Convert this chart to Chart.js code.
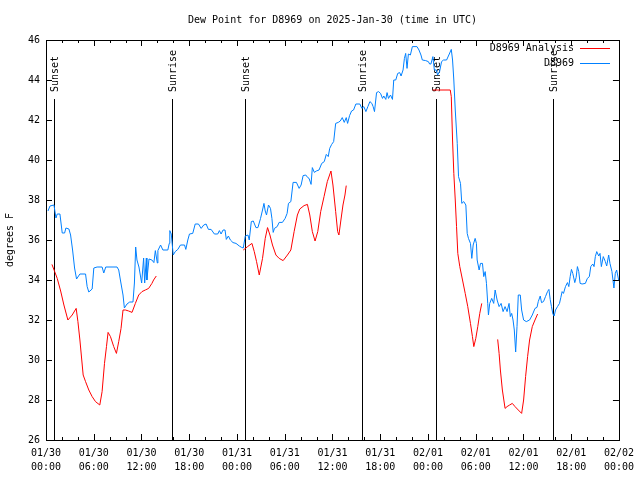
<!DOCTYPE html>
<html>
<head>
<meta charset="utf-8">
<script src="https://cdn.jsdelivr.net/npm/chart.js@4/dist/chart.umd.min.js"></script>
<style>
  html, body { margin: 0; padding: 0; background: #fff; }
  #wrapper { width: 640px; height: 480px; }
</style>
</head>
<body>
<div id="wrapper"><canvas id="grafico" width="640" height="480"></canvas></div>
<script>
"use strict";

// hours since 01/30 00:00 UTC, dew point in F
const obsPoints = [
	[0.25,37.45],[0.5,37.7],[1.0,37.75],[1.25,37.1],[1.41,37.3],[1.75,37.3],[2.04,36.35],[2.34,36.35],
	[2.5,36.6],[2.88,36.55],[3.09,36.25],[3.34,35.5],[3.59,34.6],[3.84,34.05],[4.26,34.3],[4.97,34.3],
	[5.17,33.67],[5.38,33.4],[5.8,33.55],[6.01,34.6],[6.42,34.65],[7.05,34.65],[7.26,34.35],[7.51,34.65],
	[8.93,34.65],[9.14,34.5],[9.35,34.0],[9.68,33.25],[9.85,32.6],[10.18,32.8],[10.52,32.9],[10.93,32.9],
	[11.11,33.85],[11.27,35.65],[11.43,35.0],[11.68,34.65],[12.02,33.85],[12.27,35.1],[12.4,33.85],[12.61,35.1],
	[12.68,34.0],[12.94,35.05],[13.31,35.0],[13.56,34.87],[13.74,35.47],[13.99,34.85],[14.06,35.47],[14.4,35.75],
	[14.69,35.5],[15.31,35.5],[15.49,35.83],[15.56,36.47],[15.74,36.3],[15.99,35.25],[16.24,35.42],[16.57,35.53],
	[16.9,35.75],[17.41,35.75],[17.57,35.53],[17.82,36.0],[18.03,36.3],[18.44,36.33],[18.75,36.8],[19.16,36.8],
	[19.5,36.58],[19.82,36.75],[20.12,36.8],[20.41,36.53],[20.75,36.53],[21.16,36.3],[21.58,36.3],[21.79,36.47],
	[22.0,36.3],[22.25,36.5],[22.5,36.5],[22.66,36.03],[22.92,36.2],[23.17,36.0],[23.5,35.87],[23.88,35.83],
	[24.29,35.7],[24.58,35.63],[24.79,35.6],[25.04,36.2],[25.38,36.25],[25.54,36.0],[25.8,36.92],[26.05,36.95],
	[26.38,36.62],[26.63,36.62],[26.96,37.08],[27.21,37.5],[27.39,37.83],[27.55,37.45],[27.71,37.25],[27.96,37.75],
	[28.21,37.58],[28.39,37.08],[28.55,36.38],[28.71,36.58],[29.05,36.67],[29.3,36.88],[29.71,36.88],[30.05,37.08],
	[30.3,37.33],[30.47,37.83],[30.77,37.92],[31.05,38.88],[31.47,38.88],[31.81,38.58],[32.06,38.75],[32.31,39.22],
	[32.64,39.25],[32.9,39.12],[33.06,39.08],[33.31,38.78],[33.47,39.62],[33.72,39.38],[33.97,39.45],[34.31,39.5],
	[34.65,39.83],[34.97,39.92],[35.22,40.28],[35.47,40.17],[35.65,40.58],[35.9,40.78],[36.15,40.92],[36.4,41.83],
	[36.73,41.88],[36.98,41.95],[37.23,42.12],[37.48,41.88],[37.73,42.12],[37.9,41.83],[38.15,42.22],[38.4,42.45],
	[38.65,42.5],[38.94,42.8],[39.44,42.8],[39.69,42.58],[39.94,42.67],[40.2,42.42],[40.45,42.67],[40.7,42.92],
	[40.95,42.83],[41.11,42.67],[41.28,42.42],[41.54,43.37],[41.79,43.42],[42.04,43.33],[42.29,43.08],[42.45,43.2],
	[42.7,43.03],[42.86,43.37],[43.04,43.08],[43.29,43.25],[43.54,43.03],[43.7,44.0],[43.95,44.0],[44.2,44.33],
	[44.45,44.37],[44.62,44.2],[44.87,44.5],[45.04,45.08],[45.2,45.33],[45.37,44.58],[45.54,45.3],[45.79,45.25],
	[46.04,45.67],[46.62,45.67],[46.87,45.5],[47.12,45.25],[47.29,45.0],[47.71,44.97],[48.05,44.92],[48.21,44.8],
	[48.37,44.8],[48.62,45.17],[48.8,44.5],[49.05,44.5],[49.21,44.25],[49.46,44.42],[49.71,44.92],[49.96,45.0],
	[50.34,45.0],[50.68,45.3],[50.93,45.53],[51.09,45.0],[51.25,44.0],[51.43,42.5],[51.68,40.83],[51.84,39.17],
	[52.09,38.83],[52.25,37.83],[52.5,37.92],[52.76,37.75],[52.93,36.33],[53.09,36.08],[53.34,35.83],[53.51,35.08],
	[53.68,35.75],[53.93,36.08],[54.09,35.83],[54.18,35.0],[54.43,34.5],[54.6,34.83],[54.85,34.83],[55.01,34.17],
	[55.19,34.42],[55.35,33.83],[55.51,32.83],[55.6,32.25],[55.76,32.83],[56.01,33.08],[56.26,32.83],[56.44,33.5],
	[56.69,33.0],[56.94,32.67],[57.19,32.83],[57.44,32.42],[57.69,32.67],[57.94,32.42],[58.19,32.83],[58.35,32.17],
	[58.52,32.33],[58.69,32.0],[58.85,31.5],[59.02,30.4],[59.19,31.67],[59.35,33.25],[59.6,33.25],[59.77,32.5],
	[60.02,32.0],[60.36,31.92],[60.77,32.0],[61.11,32.25],[61.45,32.58],[61.7,32.63],[61.86,32.92],[62.11,33.2],
	[62.27,32.87],[62.52,32.92],[62.77,33.17],[63.02,33.42],[63.2,33.53],[63.36,33.03],[63.52,32.67],[63.7,32.3],
	[63.86,32.2],[64.03,32.5],[64.28,32.67],[64.53,32.83],[64.7,33.13],[64.86,33.42],[65.03,33.33],[65.28,33.67],
	[65.53,33.87],[65.7,33.67],[65.87,34.17],[66.03,34.53],[66.2,34.33],[66.45,33.87],[66.62,34.13],[66.78,34.67],
	[66.95,34.42],[67.12,33.83],[67.37,33.8],[67.78,33.83],[68.03,34.08],[68.28,34.17],[68.46,34.67],[68.71,34.8],
	[68.87,34.67],[69.03,35.17],[69.21,35.42],[69.46,35.2],[69.62,35.33],[69.79,34.67],[70.03,35.17],[70.29,34.92],
	[70.46,34.7],[70.71,35.25],[70.87,34.83],[71.12,34.42],[71.37,33.6],[71.54,34.33],[71.71,34.5],[71.96,34.0]
];

// analysis, null = no value (line breaks)
const anaPoints = [
	[0.75,34.78],[1.09,34.42],[1.41,34.08],[1.84,33.45],[2.25,32.75],[2.75,32.0],[3.29,32.25],[3.79,32.58],
	[4.01,31.92],[4.26,31.0],[4.67,29.25],[4.97,28.92],[5.38,28.5],[5.8,28.17],[6.22,27.92],[6.76,27.75],
	[7.05,28.42],[7.35,29.83],[7.6,30.67],[7.8,31.38],[8.1,31.17],[8.51,30.67],[8.85,30.33],[9.14,30.92],
	[9.43,31.58],[9.68,32.5],[9.98,32.5],[10.39,32.45],[10.81,32.38],[11.23,32.83],[11.65,33.25],[12.06,33.42],
	[12.48,33.5],[12.9,33.58],[13.31,33.83],[13.52,34.0],[13.86,34.2],
	[19.0,null],
	[24.79,35.5],[25.33,35.67],[25.88,35.83],[26.17,35.42],[26.46,34.92],[26.8,34.25],[27.21,35.08],[27.55,36.08],
	[27.84,36.62],[28.14,36.25],[28.46,35.75],[28.89,35.25],[29.3,35.08],[29.8,34.97],[30.34,35.25],[30.77,35.5],
	[31.18,36.42],[31.59,37.25],[31.89,37.55],[32.43,37.72],[32.85,37.78],[33.15,37.25],[33.47,36.42],[33.81,35.95],
	[34.15,36.42],[34.52,37.42],[34.94,38.17],[35.35,38.92],[35.81,39.45],[36.06,38.75],[36.4,37.42],[36.65,36.42],
	[36.81,36.25],[37.06,37.0],[37.32,37.75],[37.57,38.25],[37.73,38.72],
	[43.0,null],
	[48.59,43.5],[49.34,43.5],[50.8,43.5],[50.93,43.17],[51.09,41.0],[51.25,39.33],[51.43,38.0],[51.59,36.67],
	[51.75,35.33],[52.0,34.67],[52.34,34.0],[52.68,33.33],[53.0,32.67],[53.34,31.83],[53.59,31.17],[53.76,30.67],
	[54.01,31.08],[54.26,31.67],[54.51,32.33],[54.76,32.83],
	[55.8,null],
	[56.76,31.03],[56.94,30.33],[57.1,29.5],[57.35,28.5],[57.69,27.58],[57.94,27.67],[58.26,27.75],[58.6,27.83],
	[58.94,27.67],[59.35,27.5],[59.77,27.33],[60.02,28.0],[60.27,29.17],[60.52,30.17],[60.77,31.0],[61.11,31.67],
	[61.45,32.0],[61.78,32.3]
];

const sunHours = [1.0, 15.78, 25.04, 39.7, 48.96, 63.74];
const sunLabels = ["Sunset", "Sunrise", "Sunset", "Sunrise", "Sunset", "Sunrise"];

const tickDates = ["01/30", "01/30", "01/30", "01/30", "01/31", "01/31", "01/31", "01/31", "02/01", "02/01", "02/01", "02/01", "02/02"];
const tickTimes = ["00:00", "06:00", "12:00", "18:00", "00:00", "06:00", "12:00", "18:00", "00:00", "06:00", "12:00", "18:00", "00:00"];

const seriesNames = ["D8969 Analysis", "D8969"];
const seriesColors = ["#ff0000", "#0080ff"];

const titolo = "Dew Point for D8969 on 2025-Jan-30 (time in UTC)";
const FONT = "'DejaVu Sans Mono', 'Liberation Mono', monospace";

function toXY(points) {
	return points.map(function (p) { return { x: p[0], y: p[1] }; });
}

const cornice = {
	id: "cornice",
	beforeDatasetsDraw: function (chart) {
		const ctx = chart.ctx;
		const xs = chart.scales.x;
		const area = chart.chartArea;
		ctx.save();
		ctx.strokeStyle = "#000";
		ctx.lineWidth = 1;
		ctx.fillStyle = "#000";
		ctx.font = "10px " + FONT;
		for (let i = 0; i < sunHours.length; i++) {
			const px = Math.round(xs.getPixelForValue(sunHours[i])) + 0.5;
			ctx.beginPath();
			ctx.moveTo(px, area.top + 59);
			ctx.lineTo(px, area.bottom);
			ctx.stroke();
			ctx.save();
			ctx.translate(px + 1, area.top + 52);
			ctx.rotate(-Math.PI / 2);
			ctx.textAlign = "left";
			ctx.textBaseline = "middle";
			ctx.fillText(sunLabels[i], 0, 0);
			ctx.restore();
		}
		ctx.restore();
	},
	afterDatasetsDraw: function (chart) {
		const ctx = chart.ctx;
		const xs = chart.scales.x;
		const ys = chart.scales.y;
		const a = chart.chartArea;
		ctx.save();
		ctx.strokeStyle = "#000";
		ctx.lineWidth = 1;
		// ticks inside on all sides
		ctx.beginPath();
		for (let h = 0; h <= 72; h += 2) {
			const px = Math.round(xs.getPixelForValue(h)) + 0.5;
			const len = (h % 6 === 0) ? 6 : 3;
			ctx.moveTo(px, a.bottom); ctx.lineTo(px, a.bottom - len);
			ctx.moveTo(px, a.top); ctx.lineTo(px, a.top + len);
		}
		for (let v = 26; v <= 46; v += 2) {
			const py = Math.round(ys.getPixelForValue(v)) + 0.5;
			ctx.moveTo(a.left, py); ctx.lineTo(a.left + 6, py);
			ctx.moveTo(a.right, py); ctx.lineTo(a.right - 6, py);
		}
		ctx.stroke();
		ctx.strokeRect(Math.round(a.left) + 0.5, Math.round(a.top) + 0.5, Math.round(a.right - a.left), Math.round(a.bottom - a.top));

		// title
		ctx.fillStyle = "#000";
		ctx.font = "10px " + FONT;
		ctx.textAlign = "center";
		ctx.textBaseline = "middle";
		ctx.fillText(titolo, (a.left + a.right) / 2, 20);

		// legend
		ctx.textAlign = "right";
		for (let i = 0; i < seriesNames.length; i++) {
			const ly = 48 + i * 15;
			ctx.fillStyle = "#000";
			ctx.fillText(seriesNames[i], 574, ly);
			ctx.strokeStyle = seriesColors[i];
			ctx.beginPath();
			ctx.moveTo(580, ly + 0.5);
			ctx.lineTo(610, ly + 0.5);
			ctx.stroke();
		}
		ctx.restore();
	}
};

const canvas = document.getElementById("grafico");
const grafico = new Chart(canvas, {
	type: "line",
	data: {
		datasets: [
			{
				label: seriesNames[0],
				data: toXY(anaPoints),
				borderColor: seriesColors[0],
				borderWidth: 1,
				pointRadius: 0,
				tension: 0,
				spanGaps: false
			},
			{
				label: seriesNames[1],
				data: toXY(obsPoints),
				borderColor: seriesColors[1],
				borderWidth: 1,
				pointRadius: 0,
				tension: 0
			}
		]
	},
	options: {
		responsive: false,
		animation: false,
		layout: { padding: { top: 40, right: 19, left: 0, bottom: 0 } },
		plugins: {
			legend: { display: false },
			title: { display: false },
			tooltip: { enabled: false }
		},
		scales: {
			x: {
				type: "linear",
				min: 0,
				max: 72,
				afterFit: function (s) { s.height = 40; },
				grid: { display: false, drawTicks: false },
				border: { display: false },
				ticks: {
					stepSize: 6,
					autoSkip: false,
					maxRotation: 0,
					padding: 6,
					color: "#000",
					font: { family: FONT, size: 10, lineHeight: "14px" },
					callback: function (value) {
						const i = Math.round(value / 6);
						return [tickDates[i], tickTimes[i]];
					}
				}
			},
			y: {
				min: 26,
				max: 46,
				afterFit: function (s) { s.width = 46; },
				grid: { display: false, drawTicks: false },
				border: { display: false },
				title: {
					display: true,
					text: "degrees F",
					color: "#000",
					padding: 4,
					font: { family: FONT, size: 10 }
				},
				ticks: {
					stepSize: 2,
					padding: 6,
					color: "#000",
					font: { family: FONT, size: 10 }
				}
			}
		}
	},
	plugins: [cornice]
});
</script>
</body>
</html>
